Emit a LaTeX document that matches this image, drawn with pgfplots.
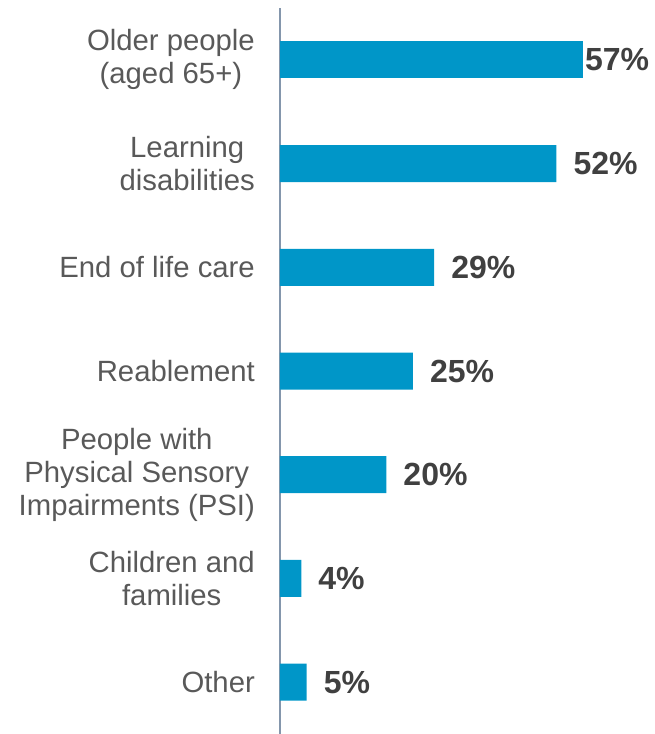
\documentclass[border=0pt]{standalone}
\usepackage{pgfplots}
\pgfplotsset{compat=1.18}
\usepackage{fontspec}
\setmainfont{Liberation Sans}
\definecolor{barblue}{HTML}{0096C8}
\definecolor{axisgray}{HTML}{8496AC}
\definecolor{labgray}{HTML}{595959}
\definecolor{valgray}{HTML}{404040}
\begin{document}
\begin{tikzpicture}
\path[use as bounding box] (0,0) rectangle (654pt,734pt);
\begin{axis}[
  at={(280pt,0pt)}, anchor=south west,
  scale only axis, width=372pt, height=726pt,
  xmin=0, xmax=70,
  ymin=-0.5, ymax=6.5, y dir=reverse,
  axis x line=none,
  axis y line=left,
  y axis line style={-, color=axisgray, line width=1.6pt},
  ytick={0,1,2,3,4,5,6},
  yticklabels={{Older people\\(aged 65+)},{Learning\\disabilities},{End of life care},{Reablement},{People with\\Physical Sensory\\Impairments (PSI)},{Children and\\families},{Other}},
  yticklabel style={align=center, inner sep=0pt, xshift=-25pt, text=labgray, font=\fontsize{29.3}{33}\selectfont},
  major tick length=0pt,
  xbar, bar width=37pt, bar shift=0pt,
  clip=false,
]
\addplot[draw=none, fill=barblue,
  nodes near coords={\pgfplotspointmeta\%},
  nodes near coords style={anchor=west, inner sep=0pt, xshift=17pt, text=valgray, font=\fontsize{32}{36}\selectfont\bfseries},
  point meta=explicit symbolic]
  coordinates {(52,1) [52] (29,2) [29] (25,3) [25] (20,4) [20] (4,5) [4] (5,6) [5]};
\addplot[draw=none, fill=barblue,
  nodes near coords={\pgfplotspointmeta\%},
  nodes near coords style={anchor=west, inner sep=0pt, xshift=2pt, text=valgray, font=\fontsize{32}{36}\selectfont\bfseries},
  point meta=explicit symbolic]
  coordinates {(57,0) [57]};
\end{axis}
\end{tikzpicture}
\end{document}
